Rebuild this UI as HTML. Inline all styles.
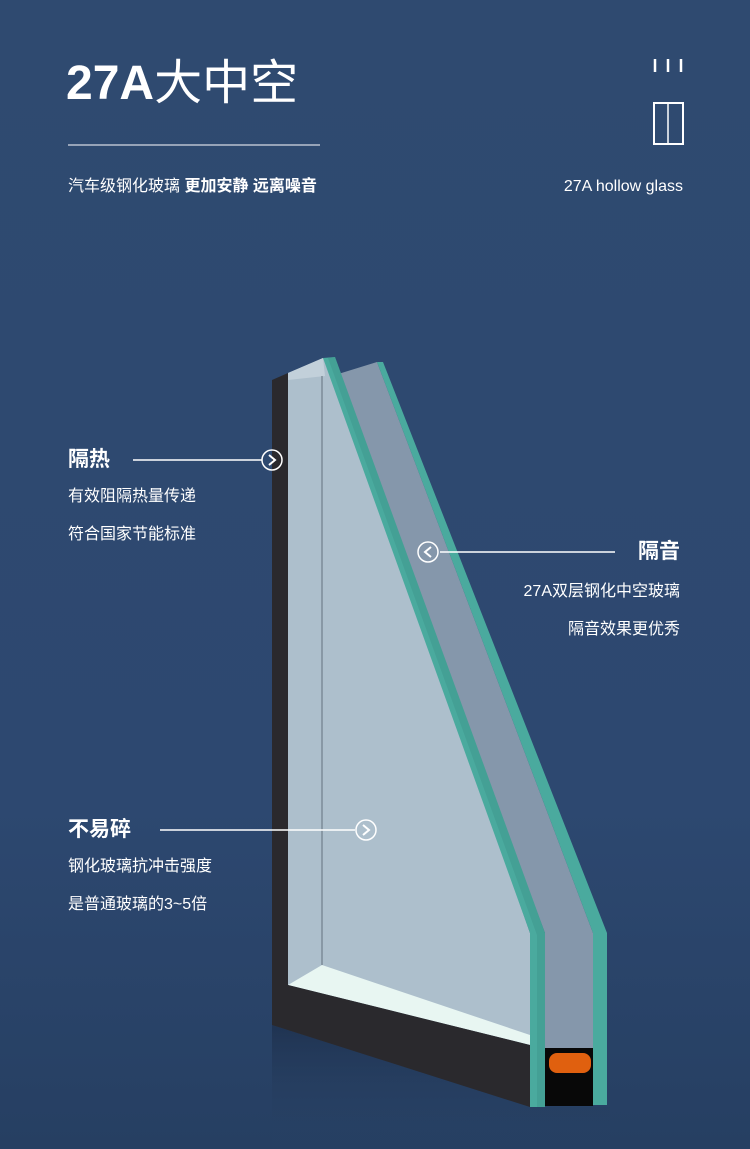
<!DOCTYPE html>
<html><head><meta charset="utf-8"><style>
body{margin:0;width:750px;height:1149px;overflow:hidden;background:linear-gradient(#2f4a70,#2d4870 70%,#263f62);font-family:"Liberation Sans","Noto Sans CJK SC",sans-serif;color:#fff;position:relative}
.t{position:absolute;white-space:nowrap}
</style></head><body>
<svg width="750" height="1149" style="position:absolute;left:0;top:0">
<defs><linearGradient id="sh" x1="0" y1="0" x2="0" y2="1"><stop offset="0" stop-color="#1c2d48" stop-opacity=".7"/><stop offset="1" stop-color="#2a4468" stop-opacity="0"/></linearGradient></defs>
<polygon points="272,1025 530,1107 610,1107 610,1149 272,1149" fill="url(#sh)"/>
<polygon points="288,373 323,358 335,376 530,933 530,1045 288,985" fill="#adbfcc"/>
<polygon points="288,373 323,358 325,376 288,380" fill="#c2d0da"/>
<line x1="322" y1="376" x2="322" y2="965" stroke="#7d8c98" stroke-width="1.5"/>
<polygon points="288,985 322,965 530,1035 530,1045" fill="#e8f6f2"/>
<polygon points="335,375 377,362 593,933 593,1050 545,1050 545,933" fill="#8597ab"/>
<polygon points="272,380 288,373 288,985 530,1045 530,1107 272,1025" fill="#2a292d"/>
<rect x="545" y="1048" width="48" height="58" fill="#080808"/>
<rect x="549" y="1053" width="42" height="20" rx="8" fill="#e0600f"/>
<polygon points="323,358 335,357 545,933 545,1107 530,1107 530,933" fill="#4aaa9e"/>
<polygon points="335,357 545,933 545,1107 537,1107 537,935 328,358" fill="#3e968b" opacity=".5"/>
<polygon points="377,362 383,362 607,933 607,1105 593,1105 593,933" fill="#4aaa9e"/>
<g stroke="#fff" fill="none" stroke-width="1.5">
<line x1="133" y1="460" x2="262" y2="460"/><circle cx="272" cy="460" r="10"/><polyline points="269,455 275,460 269,465" stroke-width="2"/>
<line x1="440" y1="552" x2="615" y2="552"/><circle cx="428" cy="552" r="10"/><polyline points="431,547 425,552 431,557" stroke-width="2"/>
<line x1="160" y1="830" x2="355" y2="830"/><circle cx="366" cy="830" r="10"/><polyline points="363,825 369,830 363,835" stroke-width="2"/>
<line x1="68" y1="145" x2="320" y2="145" stroke-width="1"/>
<line x1="655" y1="59" x2="655" y2="72" stroke-width="2.5"/><line x1="668" y1="59" x2="668" y2="72" stroke-width="2.5"/><line x1="681" y1="59" x2="681" y2="72" stroke-width="2.5"/>
<rect x="654" y="103" width="29" height="41" stroke-width="2"/><line x1="668" y1="103" x2="668" y2="144" stroke-width="1.5"/>
</g>
</svg>
<div class="t" style="left:66px;top:54px;font-size:48px;font-weight:bold;line-height:60px">27A<span style="font-weight:normal">大中空</span></div>
<div class="t" style="left:68px;top:176px;font-size:16px;line-height:22px">汽车级钢化玻璃 <b>更加安静 远离噪音</b></div>
<div class="t" style="right:67px;top:176px;font-size:16px;line-height:22px">27A hollow glass</div>
<div class="t" style="left:68px;top:447px;font-size:21px;font-weight:bold;line-height:26px">隔热</div>
<div class="t" style="left:68px;top:486px;font-size:16px;line-height:22px">有效阻隔热量传递</div>
<div class="t" style="left:68px;top:524px;font-size:16px;line-height:22px">符合国家节能标准</div>
<div class="t" style="right:70px;top:539px;font-size:21px;font-weight:bold;line-height:26px">隔音</div>
<div class="t" style="right:70px;top:581px;font-size:16px;line-height:22px">27A双层钢化中空玻璃</div>
<div class="t" style="right:70px;top:619px;font-size:16px;line-height:22px">隔音效果更优秀</div>
<div class="t" style="left:68px;top:817px;font-size:21px;font-weight:bold;line-height:26px">不易碎</div>
<div class="t" style="left:68px;top:856px;font-size:16px;line-height:22px">钢化玻璃抗冲击强度</div>
<div class="t" style="left:68px;top:894px;font-size:16px;line-height:22px">是普通玻璃的3~5倍</div>
</body></html>
